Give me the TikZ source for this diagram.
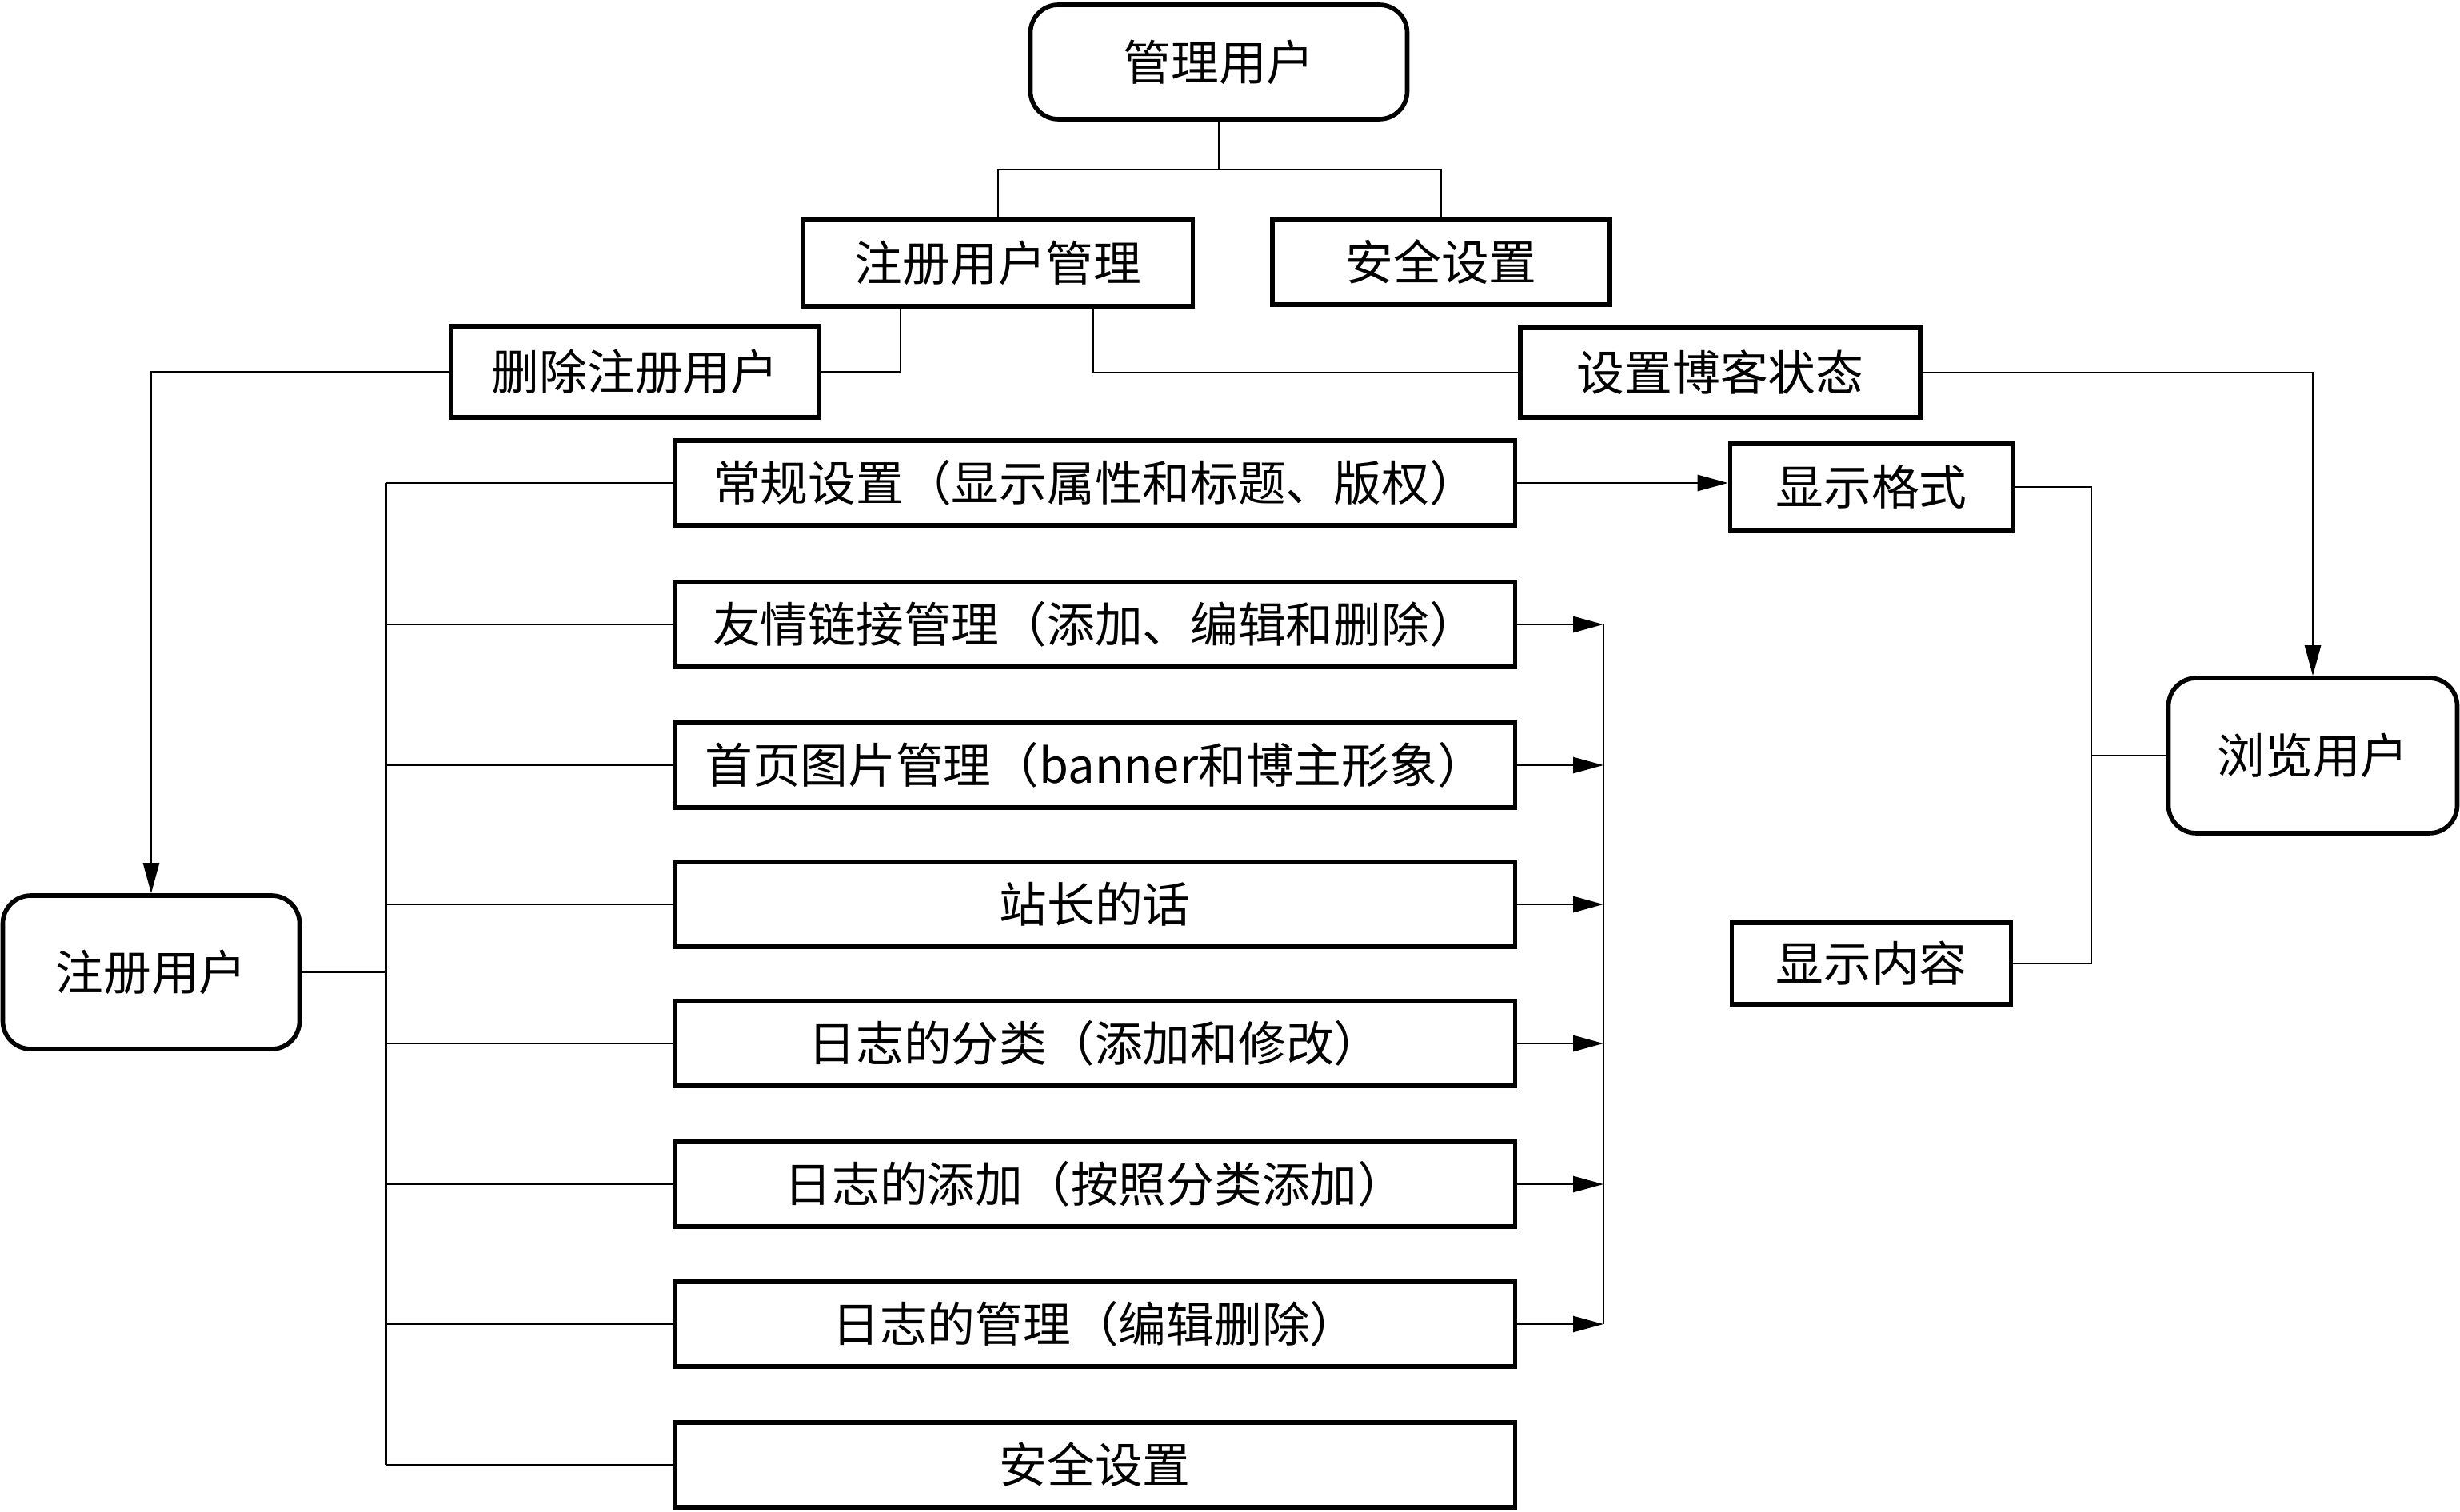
\documentclass[tikz,border=0pt]{standalone}
\usepackage{fontspec}
\setmainfont{Noto Sans CJK SC}
\usetikzlibrary{arrows.meta,positioning,calc}

\begin{document}
\begin{tikzpicture}[font=\fontsize{17}{20}\selectfont, every node/.style={align=center},
    box/.style={draw,line width=1.6pt,inner sep=0pt},
    user/.style={box,rounded corners=0.35cm},
    row/.style={box,minimum width=10.51cm,minimum height=1.06cm},
    link/.style={line width=0.8pt},
    arr/.style={link,-{Triangle[length=3.8mm,width=2mm]}}]
      \useasboundingbox (0,0) rectangle (30.76,-18.91);

      \node[user,minimum width=4.71cm,minimum height=1.43cm] (admin) at (15.24,-0.775) {管理用户};
      \node[box,minimum width=4.87cm,minimum height=1.08cm] (regmgr) at (12.48,-3.29) {注册用户管理};
      \node[box,minimum width=4.22cm,minimum height=1.06cm] (secure) at (18.02,-3.28) {安全设置};
      \node[box,minimum width=4.59cm,minimum height=1.14cm] (delete) at (7.94,-4.65) {删除注册用户};
      \node[box,minimum width=5.00cm,minimum height=1.12cm] (status) at (21.51,-4.66) {设置博客状态};

      \node[user,minimum width=3.71cm,minimum height=1.92cm] (reguser) at (1.89,-12.16) {注册用户};
      \node[user,minimum width=3.61cm,minimum height=1.94cm] (viewer) at (28.92,-9.45) {浏览用户};

      \node[row] (general) at (13.69,-6.04) {常规设置（显示属性和标题、版权）};
      \node[row] (links) at (13.69,-7.81) {友情链接管理（添加、编辑和删除）};
      \node[row] (banner) at (13.69,-9.57) {首页图片管理（banner和博主形象）};
      \node[row] (words) at (13.69,-11.31) {站长的话};
      \node[row] (logcat) at (13.69,-13.05) {日志的分类（添加和修改）};
      \node[row] (logadd) at (13.69,-14.81) {日志的添加（按照分类添加）};
      \node[row] (logmgr) at (13.69,-16.56) {日志的管理（编辑删除）};
      \node[row] (safety) at (13.69,-18.32) {安全设置};

      \node[box,minimum width=3.53cm,minimum height=1.08cm] (format) at (23.40,-6.09) {显示格式};
      \node[box,minimum width=3.49cm,minimum height=1.02cm] (content) at (23.40,-12.05) {显示内容};

      \coordinate (split) at (15.24,-2.12);
      \coordinate (lbus) at (4.83,0);
      \coordinate (rbus) at (20.05,0);
      \coordinate (dbus) at (26.15,0);

      % top tree
      \draw[link] (admin.south) -- (split);
      \draw[link] (regmgr.north) |- (split) -| (secure.north);
      \draw[link] ([xshift=-1.22cm]regmgr.south) |- (delete.east);
      \draw[link] ([xshift=1.19cm]regmgr.south) |- (status.west);
      \draw[arr] (delete.west) -| (reguser.north);
      \draw[arr] (status.east) -| (viewer.north);

      % registered user functions
      \draw[link] (reguser.east) -- (reguser.east -| lbus);
      \draw[link] (general.west -| lbus) -- (safety.west -| lbus);
      \foreach \n in {general,links,banner,words,logcat,logadd,logmgr,safety}
        \draw[link] (\n.west -| lbus) -- (\n.west);
      \draw[arr] (general.east) -- (general.east -| format.west);
      \foreach \n in {links,banner,words,logcat,logadd,logmgr}
        \draw[arr] (\n.east) -- (\n.east -| rbus);
      \draw[link] (links.east -| rbus) -- (logmgr.east -| rbus);

      % viewer
      \draw[link] (format.east) -- (format.east -| dbus) -- (content.east -| dbus) -- (content.east);
      \draw[link] (dbus |- viewer.west) -- (viewer.west);
    \end{tikzpicture}
\end{document}
